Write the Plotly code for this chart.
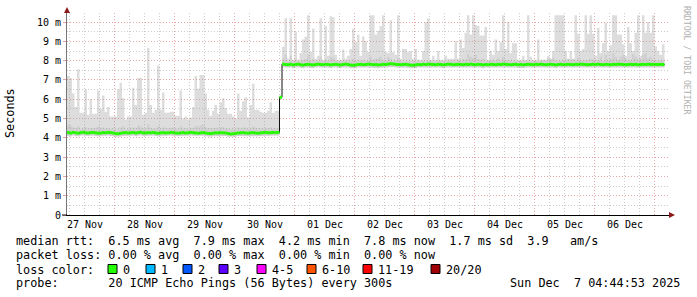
import plotly.graph_objects as go
import pandas as pd

# ---------------- data ----------------
T0 = pd.Timestamp("2025-11-27 05:00")        # start of first hourly bin
T_END = pd.Timestamp("2025-12-07 05:48")     # right edge of plot area

# top of the smoke (max rtt per hour), ms
smoke_max = [
    7.2, 7.1, 6.3, 5.6, 7.55, 5.3, 5.3, 6.5, 5.2, 6.0,
    5.25, 5.25, 6.45, 5.5, 6.2, 5.35, 5.6, 5.1, 5.1, 5.1,
    6.5, 6.85, 6.05, 4.95, 5.1, 5.1, 6.6, 5.7, 7.1, 7.1,
    5.2, 5.3, 8.65, 5.7, 5.3, 5.45, 7.75, 5.45, 6.35, 5.3,
    5.3, 5.35, 5.35, 5.15, 5.15, 6.45,
    5.0, 5.1, 4.95, 5.05,
    5.6, 7.2, 6.55, 7.25, 7.25, 6.3, 5.45, 5.15, 5.4, 5.7,
    5.25, 5.85, 6.05, 5.55, 5.25, 5.25, 5.1, 5.0, 6.3, 5.4,
    5.9, 6.1, 5.05, 5.7, 6.8, 5.45, 5.45, 5.35, 5.3, 5.3,
    5.4, 5.85, 5.3, 5.4, 5.4,
    6.2,
    8.72, 10.2, 8.1, 10.2, 8.05, 9.5, 8.05, 8.4, 9.1, 9.25,
    10.35, 8.45, 9.67, 8.1, 8.25, 10.2, 8.05, 9.8, 8.25, 10.3,
    10.25, 8.3, 8.05, 8.05, 8.58, 8.1, 8.25, 8.6, 9.65, 8.95,
    9.35, 8.25, 9.25, 9.0, 8.45, 10.35, 10.35, 9.35, 9.55, 9.8,
    10.35, 8.45, 8.4, 10.1, 8.45, 8.3, 10.35, 8.1, 8.6,
    8.6, 8.45, 8.5, 8.1, 8.6, 8.05, 8.05, 8.5, 10.0, 10.2,
    8.05, 8.25, 8.05, 8.5, 8.05, 8.05, 8.25, 8.1, 8.1, 8.1,
    9.0, 8.1, 9.1, 8.65, 9.45, 10.35, 9.35, 10.35, 9.85, 9.8,
    9.3, 9.3, 9.75, 8.05, 8.5, 8.3, 9.1, 8.5, 8.95, 10.35,
    8.6, 10.0, 8.4, 8.9, 8.9, 8.05, 8.05, 8.25, 8.05, 10.35,
    8.2,
    8.05, 8.05, 9.1, 8.05, 8.05, 8.05, 8.25, 8.1, 8.5,
    10.35, 10.35, 10.35, 10.35, 8.5, 8.1, 8.5, 8.1, 10.35, 9.4,
    8.5, 8.6, 10.35, 9.4, 10.35, 9.4, 8.25, 9.7, 8.4, 8.9,
    9.95, 8.5, 8.8, 10.35, 10.35, 9.35, 9.35, 8.85, 8.25, 9.75,
    8.9, 8.5, 9.45, 10.35, 8.25, 10.35, 9.45, 10.0, 9.45, 10.35,
    8.75, 8.5, 8.3, 8.85,
]

# bottom of the smoke (min rtt per hour), ms
smoke_lo = [
    4.10, 4.08, 4.12, 4.10, 4.07, 4.11, 4.13, 4.10, 4.09, 4.10,
    4.12, 4.10, 4.07, 4.09, 4.11, 4.10, 4.12, 4.10, 4.08, 4.05,
    4.04, 4.07, 4.10, 4.11, 4.09, 4.10, 4.12, 4.08, 4.11, 4.13,
    4.10, 4.09, 4.11, 4.10, 4.12, 4.09, 4.08, 4.10, 4.11, 4.09,
    4.10, 4.12, 4.11, 4.09, 4.08, 4.10, 4.11, 4.09, 4.10, 4.12,
    4.11, 4.09, 4.08, 4.10, 4.11, 4.09, 4.07, 4.06, 4.08, 4.10,
    4.09, 4.11, 4.10, 4.09, 4.06, 4.04, 4.05, 4.07, 4.09, 4.10,
    4.11, 4.09, 4.08, 4.10, 4.11, 4.09, 4.08, 4.10, 4.11, 4.12,
    4.10, 4.11, 4.12, 4.11, 4.12,
    6.00,
    7.66, 7.64, 7.62, 7.65, 7.61, 7.64, 7.66, 7.63, 7.60, 7.64,
    7.65, 7.63, 7.61, 7.64, 7.66, 7.64, 7.62, 7.65, 7.64, 7.61,
    7.64, 7.65, 7.63, 7.61, 7.64, 7.66, 7.64, 7.60, 7.59, 7.61,
    7.64, 7.65, 7.63, 7.64, 7.66, 7.65, 7.63, 7.64, 7.61, 7.63,
    7.65, 7.64, 7.66, 7.68, 7.67, 7.65, 7.64, 7.63, 7.64, 7.65,
    7.63, 7.60, 7.59, 7.61, 7.64, 7.63, 7.65, 7.64, 7.66, 7.65,
    7.64, 7.63, 7.65, 7.64, 7.61, 7.64, 7.66, 7.65, 7.63, 7.64,
    7.65, 7.64, 7.63, 7.65, 7.64, 7.66, 7.64, 7.63, 7.65, 7.64,
    7.61, 7.64, 7.63, 7.65, 7.64, 7.63, 7.65, 7.64, 7.66, 7.65,
    7.64, 7.63, 7.64, 7.65, 7.63, 7.64, 7.61, 7.64, 7.65, 7.64,
    7.63, 7.65, 7.64, 7.66, 7.64, 7.63, 7.64, 7.65, 7.64, 7.61,
    7.64, 7.65, 7.63, 7.64, 7.65, 7.64, 7.63, 7.65, 7.64, 7.66,
    7.65, 7.64, 7.63, 7.64, 7.65, 7.64, 7.66, 7.64, 7.63, 7.65,
    7.64, 7.63, 7.65, 7.64, 7.66, 7.65, 7.64, 7.63, 7.64, 7.65,
    7.64, 7.65, 7.63, 7.64, 7.65, 7.64, 7.66, 7.64, 7.65, 7.64,
    7.64, 7.65, 7.64,
]

# top of the denser (darker) smoke, ms
smoke_mid = [
    4.70, 4.65, 4.55, 4.50, 4.60, 4.45, 4.50, 4.55, 4.45, 4.50,
    4.48, 4.52, 4.60, 4.50, 4.55, 4.47, 4.50, 4.45, 4.48, 4.42,
    4.45, 4.55, 4.60, 4.45, 4.48, 4.50, 4.55, 4.50, 4.65, 4.60,
    4.50, 4.48, 4.70, 4.52, 4.48, 4.50, 4.62, 4.50, 4.55, 4.48,
    4.50, 4.52, 4.50, 4.47, 4.48, 4.60, 4.50, 4.48, 4.46, 4.50,
    4.52, 4.62, 4.58, 4.65, 4.70, 4.55, 4.50, 4.47, 4.50, 4.52,
    4.48, 4.55, 4.58, 4.50, 4.47, 4.45, 4.44, 4.46, 4.55, 4.48,
    4.52, 4.55, 4.46, 4.50, 4.60, 4.52, 4.50, 4.48, 4.48, 4.47,
    4.50, 4.55, 4.48, 4.50, 4.50,
    6.20,
    8.10, 8.30, 7.98, 8.25, 7.96, 8.10, 7.97, 8.00, 8.05, 8.10,
    8.30, 8.00, 8.10, 7.97, 7.99, 8.20, 7.96, 8.05, 7.98, 8.20,
    8.15, 8.00, 7.96, 7.97, 8.02, 7.98, 8.00, 8.02, 8.10, 8.00,
    8.05, 7.98, 8.05, 8.00, 8.00, 8.20, 8.05, 8.10, 8.15, 8.20,
    7.99, 8.00, 8.20, 8.10, 7.98, 8.00, 8.15, 7.97, 8.00, 7.97,
    7.99, 8.00, 7.98, 7.97, 8.05, 7.96, 7.97, 7.98, 7.99, 8.00,
    7.97, 7.96, 8.00, 7.98, 7.96, 7.97, 7.97, 7.97, 8.00, 7.97,
    8.05, 7.98, 8.10, 8.05, 8.35, 8.20, 8.15, 8.30, 8.10, 8.05,
    8.10, 7.98, 8.00, 7.99, 8.05, 7.98, 8.15, 8.00, 8.20, 8.02,
    8.00, 8.05, 7.97, 7.97, 7.98, 7.96, 7.97, 7.97, 7.98, 7.99,
    7.98, 7.97, 7.98, 8.00, 8.05, 8.00, 8.10, 8.20, 8.15, 8.00,
    7.99, 8.00, 8.05, 7.98, 8.30, 8.05, 8.10, 8.00, 8.15, 8.00,
    8.00, 8.02, 8.05, 8.10, 8.05, 8.00, 8.02, 8.20, 7.98, 8.30,
    8.05, 8.10, 8.40, 8.20, 8.05, 8.20, 8.30, 8.10, 8.00, 8.05,
    8.35, 8.20, 8.05, 8.10, 8.30, 8.40, 8.15, 8.20, 8.05, 8.00,
    8.02, 8.00, 8.05,
]

# median rtt per hour, ms
median_rtt = [
    4.27, 4.25, 4.28, 4.26, 4.24, 4.27, 4.29, 4.26, 4.25, 4.27,
    4.28, 4.26, 4.24, 4.25, 4.27, 4.26, 4.28, 4.27, 4.25, 4.22,
    4.21, 4.24, 4.26, 4.27, 4.25, 4.26, 4.28, 4.25, 4.27, 4.29,
    4.26, 4.25, 4.27, 4.26, 4.28, 4.25, 4.24, 4.26, 4.27, 4.25,
    4.26, 4.28, 4.27, 4.25, 4.24, 4.26, 4.27, 4.25, 4.26, 4.28,
    4.27, 4.25, 4.24, 4.26, 4.27, 4.25, 4.23, 4.22, 4.24, 4.26,
    4.25, 4.27, 4.26, 4.25, 4.22, 4.20, 4.21, 4.23, 4.25, 4.26,
    4.27, 4.25, 4.24, 4.26, 4.27, 4.25, 4.24, 4.26, 4.27, 4.28,
    4.26, 4.27, 4.28, 4.27, 4.28,
    6.10,
    7.82, 7.80, 7.79, 7.81, 7.78, 7.80, 7.82, 7.79, 7.77, 7.80,
    7.81, 7.79, 7.78, 7.80, 7.82, 7.80, 7.79, 7.81, 7.80, 7.78,
    7.80, 7.81, 7.79, 7.78, 7.80, 7.82, 7.80, 7.77, 7.76, 7.78,
    7.80, 7.81, 7.79, 7.80, 7.82, 7.81, 7.79, 7.80, 7.78, 7.79,
    7.81, 7.80, 7.82, 7.84, 7.83, 7.81, 7.80, 7.79, 7.80, 7.81,
    7.79, 7.77, 7.76, 7.78, 7.80, 7.79, 7.81, 7.80, 7.82, 7.81,
    7.80, 7.79, 7.81, 7.80, 7.78, 7.80, 7.82, 7.81, 7.79, 7.80,
    7.81, 7.80, 7.79, 7.81, 7.80, 7.82, 7.80, 7.79, 7.81, 7.80,
    7.78, 7.80, 7.79, 7.81, 7.80, 7.79, 7.81, 7.80, 7.82, 7.81,
    7.80, 7.79, 7.80, 7.81, 7.79, 7.80, 7.78, 7.80, 7.81, 7.80,
    7.79, 7.81, 7.80, 7.82, 7.80, 7.79, 7.80, 7.81, 7.80, 7.78,
    7.80, 7.81, 7.79, 7.80, 7.81, 7.80, 7.79, 7.81, 7.80, 7.82,
    7.81, 7.80, 7.79, 7.80, 7.81, 7.80, 7.82, 7.80, 7.79, 7.81,
    7.80, 7.79, 7.81, 7.80, 7.82, 7.81, 7.80, 7.79, 7.80, 7.81,
    7.80, 7.81, 7.79, 7.80, 7.81, 7.80, 7.82, 7.80, 7.81, 7.80,
    7.80, 7.81, 7.80,
]

y_tick_vals = [0, 1, 2, 3, 4, 5, 6, 7, 8, 9, 10]
y_tick_text = ["0", "1 m", "2 m", "3 m", "4 m", "5 m", "6 m", "7 m", "8 m", "9 m", "10 m"]
day_labels = ["27 Nov", "28 Nov", "29 Nov", "30 Nov", "01 Dec",
              "02 Dec", "03 Dec", "04 Dec", "05 Dec", "06 Dec"]

legend_line1 = "median rtt:  6.5 ms avg  7.9 ms max  4.2 ms min  7.8 ms now  1.7 ms sd  3.9   am/s"
legend_line2 = "packet loss: 0.00 % avg  0.00 % max  0.00 % min  0.00 % now"
legend_line3 = "loss color:"
legend_line4 = "probe:       20 ICMP Echo Pings (56 Bytes) every 300s"
legend_date = "Sun Dec  7 04:44:53 2025"
loss_labels = ["0", "1", "2", "3", "4-5", "6-10", "11-19", "20/20"]
loss_colors = ["#26ff00", "#00b8ff", "#0059ff", "#5e00ff", "#ff00ff", "#ff5500", "#ff0000", "#a10000"]

# ---------------- geometry helpers (pixels -> paper) ----------------
W, H = 697, 297
L, R, T, B = 67, 28, 13, 82
PW, PH = W - L - R, H - T - B


def px(x):
    return (x - L) / PW


def py(y):
    return (H - B - y) / PH


MONO = "DejaVu Sans Mono"


def nb(s):
    return s.replace(" ", "\u00a0")


n = len(smoke_max)
starts = [T0 + pd.Timedelta(hours=k) for k in range(n)]
ends = [s + pd.Timedelta(hours=1) for s in starts]


def band(lo, hi):
    xs, ys = [], []
    for k in range(n):
        xs += [starts[k], ends[k]]
        ys += [hi[k], hi[k]]
    for k in reversed(range(n)):
        xs += [ends[k], starts[k]]
        ys += [lo[k], lo[k]]
    return xs, ys


fig = go.Figure()

bx, by = band(smoke_lo, smoke_max)
fig.add_trace(go.Scatter(x=bx, y=by, mode="lines", fill="toself",
                         fillcolor="rgba(150,150,150,0.32)", line=dict(width=0),
                         hoverinfo="skip", showlegend=False))
mid_top = [min(a, b) for a, b in zip(smoke_mid, smoke_max)]
mx, my = band(smoke_lo, mid_top)
fig.add_trace(go.Scatter(x=mx, y=my, mode="lines", fill="toself",
                         fillcolor="rgba(120,120,120,0.13)", line=dict(width=0),
                         hoverinfo="skip", showlegend=False))

# black median step line
fig.add_trace(go.Scatter(x=starts + [ends[-1]], y=median_rtt + [median_rtt[-1]],
                         mode="lines", line=dict(color="#111111", width=1, shape="hv"),
                         hoverinfo="skip", showlegend=False))
# green (0 % loss) median segments
gx, gy = [], []
for k in range(n):
    gx += [starts[k], ends[k], None]
    gy += [median_rtt[k], median_rtt[k], None]
fig.add_trace(go.Scatter(x=gx, y=gy, mode="lines", line=dict(color="#26ff00", width=3),
                         hoverinfo="skip", showlegend=False))

midnights = pd.date_range("2025-11-28", periods=10, freq="D")
noons = pd.date_range("2025-11-27 12:00", periods=10, freq="D")

fig.update_xaxes(
    type="date", range=[T0, T_END], tickmode="array", tickvals=list(midnights),
    showticklabels=False, ticks="", showgrid=True, gridcolor="#eaa8a8",
    griddash="1px,2px", gridwidth=1, zeroline=False,
    showline=True, linecolor="#000000", linewidth=1,
    minor=dict(tickmode="linear", tick0="2025-11-27 00:00", dtick=6 * 3600000,
               showgrid=True, gridcolor="#cccccc", griddash="1px,2px", ticks=""),
)
fig.update_yaxes(
    range=[0, 10.47], tickmode="array", tickvals=y_tick_vals, ticktext=y_tick_text,
    showgrid=True, gridcolor="#eaa8a8", griddash="1px,2px", gridwidth=1, zeroline=False,
    showline=True, linecolor="#777777", linewidth=1,
    ticks="outside", ticklen=3, tickcolor="#e8a0a0",
    tickfont=dict(family=MONO, size=10, color="#000000"),
    minor=dict(dtick=0.5, showgrid=True, gridcolor="#cccccc", griddash="1px,2px", ticks=""),
)

ann = []
for lbl, t in zip(day_labels, noons):
    ann.append(dict(x=t, xref="x", y=py(224), yref="paper", text=nb(lbl), showarrow=False,
                    xanchor="center", yanchor="middle",
                    font=dict(family=MONO, size=10, color="#000000")))

ann.append(dict(x=px(10), y=py(113), xref="paper", yref="paper", text="Seconds",
                textangle=-90, showarrow=False, xanchor="center", yanchor="middle",
                font=dict(family=MONO, size=11.8, color="#000000")))
ann.append(dict(x=px(687), y=py(60), xref="paper", yref="paper", text=nb("RRDTOOL / TOBI OETIKER"),
                textangle=90, showarrow=False, xanchor="center", yanchor="middle",
                font=dict(family=MONO, size=8.2, color="#b0b0b0")))

leg_font = dict(family=MONO, size=11.8, color="#000000")
for txt, yc in [(legend_line1, 241), (legend_line2, 255), (legend_line3, 269.5), (legend_line4, 283)]:
    ann.append(dict(x=px(16), y=py(yc), xref="paper", yref="paper", text=nb(txt),
                    showarrow=False, xanchor="left", yanchor="middle", font=leg_font,
                    borderpad=0, borderwidth=0))
ann.append(dict(x=px(680), y=py(283), xref="paper", yref="paper", text=nb(legend_date),
                showarrow=False, xanchor="right", yanchor="middle", font=leg_font,
                borderpad=0, borderwidth=0))

box_left = [108, 146, 183, 219, 257, 307, 363, 431]
shapes = []
for bl, lbl, col in zip(box_left, loss_labels, loss_colors):
    shapes.append(dict(type="rect", xref="paper", yref="paper",
                       x0=px(bl), x1=px(bl + 9), y0=py(273.5), y1=py(264.5),
                       fillcolor=col, line=dict(color="#000000", width=1)))
    ann.append(dict(x=px(bl + 14.5), y=py(269.5), xref="paper", yref="paper", text=nb(lbl),
                    showarrow=False, xanchor="left", yanchor="middle", font=leg_font,
                    borderpad=0, borderwidth=0))

# axis arrows and x-axis extension
shapes.append(dict(type="path", xref="paper", yref="paper",
                   path=f"M {px(64)} {py(13)} L {px(70)} {py(13)} L {px(67)} {py(7)} Z",
                   fillcolor="#8b1a1a", line=dict(width=0)))
shapes.append(dict(type="path", xref="paper", yref="paper",
                   path=f"M {px(669)} {py(212)} L {px(669)} {py(218)} L {px(675)} {py(215)} Z",
                   fillcolor="#8b1a1a", line=dict(width=0)))
shapes.append(dict(type="line", xref="paper", yref="paper", x0=px(62), x1=px(67),
                   y0=0, y1=0, line=dict(color="#000000", width=1)))

fig.update_layout(
    width=W, height=H, margin=dict(l=L, r=R, t=T, b=B),
    paper_bgcolor="#ffffff", plot_bgcolor="#ffffff",
    showlegend=False, annotations=ann, shapes=shapes,
)

fig.write_html("out.html")
